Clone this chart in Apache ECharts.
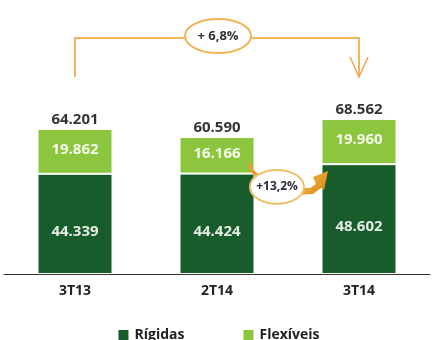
<!DOCTYPE html>
<html>
<head>
<meta charset="utf-8">
<script src="https://cdn.jsdelivr.net/npm/echarts@6/dist/echarts.min.js"></script>
<style>
  html, body { margin: 0; padding: 0; background: #fff; }
  #chart { width: 436px; height: 340px; }
</style>
</head>
<body>
<div id="chart"></div>
<script>
// Quarterly volumes split by packaging type
const categories = ['3T13', '2T14', '3T14'];
const rigidas = [44339, 44424, 48602];
const flexiveis = [19862, 16166, 19960];
const totals = rigidas.map((v, i) => v + flexiveis[i]);
const yearGrowth = '+ 6,8%';
const quarterGrowth = '+13,2%';

const FONT = '"Open Sans", "Noto Sans", sans-serif';
const DARK = '#195c2b';
const LIGHT = '#8cc63f';
const ORANGE = '#f2b45a';

const fmt = v => v.toLocaleString('de-DE');

const chart = echarts.init(document.getElementById('chart'), null, { renderer: 'canvas' });

chart.setOption({
  animation: false,
  backgroundColor: '#fff',
  grid: { left: 4, right: 6, top: 48, bottom: 66 },
  legend: {
    data: ['Rígidas', 'Flexíveis'],
    left: 'center',
    top: 323,
    itemWidth: 12,
    itemHeight: 12,
    itemGap: 57,
    icon: 'rect',
    textStyle: { fontFamily: FONT, fontWeight: 'bold', fontSize: 14, color: '#222' }
  },
  xAxis: {
    type: 'category',
    data: categories,
    axisLine: { lineStyle: { color: '#333', width: 1 } },
    axisTick: { show: false },
    axisLabel: { fontFamily: FONT, fontWeight: 'bold', fontSize: 14, color: '#222', margin: 10 }
  },
  yAxis: {
    type: 'value',
    min: 0,
    max: 100000,
    show: false,
    splitLine: { show: false }
  },
  series: [
    {
      name: 'Rígidas',
      type: 'bar',
      stack: 'vol',
      barWidth: 75,
      data: rigidas,
      itemStyle: { color: DARK, borderColor: '#fff', borderWidth: 1 },
      label: {
        show: true,
        position: 'inside',
        offset: [0, 8],
        formatter: p => fmt(p.value),
        fontFamily: FONT, fontWeight: 'bold', fontSize: 15, color: '#e4ebe4'
      }
    },
    {
      name: 'Flexíveis',
      type: 'bar',
      stack: 'vol',
      barWidth: 75,
      data: flexiveis,
      itemStyle: { color: LIGHT, borderColor: '#fff', borderWidth: 1 },
      label: {
        show: true,
        position: 'inside',
        offset: [0, -2],
        formatter: p => fmt(p.value),
        fontFamily: FONT, fontWeight: 'bold', fontSize: 15, color: '#f4f9ea'
      }
    },
    {
      name: 'Total',
      type: 'scatter',
      data: totals,
      symbolSize: 0,
      silent: true,
      z: 5,
      label: {
        show: true,
        position: 'top',
        distance: 2,
        formatter: p => fmt(p.value),
        fontFamily: FONT, fontWeight: 'bold', fontSize: 15, color: '#000'
      }
    }
  ]
});

// Growth annotations placed from the axis positions of the bars
const px = (i, v) => chart.convertToPixel({ xAxisIndex: 0, yAxisIndex: 0 }, [i, v]);
const x0 = px(0, 0)[0];
const x1 = px(1, 0)[0];
const x2 = px(2, 0)[0];
const lightBottom1 = px(1, rigidas[1]);
const darkTop2 = px(2, rigidas[2]);
const half = 37.5;

const bracketY = 38, bracketLow = 77;
const midX = (x0 + x2) / 2 + 1;

// centre of the quarter-on-quarter bubble, between the 2T14 and 3T14 bars
const ex = (x1 + x2) / 2 - 11;
const ey = (lightBottom1[1] + darkTop2[1]) / 2 + 18;
const tx = x1 + half - 6;
const ty = lightBottom1[1] - 12;

chart.setOption({
  graphic: [
    {
      type: 'polyline',
      shape: { points: [[x0, bracketLow], [x0, bracketY], [x2, bracketY], [x2, bracketLow]] },
      style: { stroke: ORANGE, lineWidth: 2, fill: null },
      z: 10
    },
    {
      type: 'polyline',
      shape: { points: [[x2 - 9, bracketLow - 20], [x2, bracketLow], [x2 + 9, bracketLow - 20]] },
      style: { stroke: '#efa453', lineWidth: 1.5, fill: null },
      z: 10
    },
    {
      type: 'ellipse',
      shape: { cx: midX, cy: 36, rx: 33, ry: 17 },
      style: { fill: '#fff', stroke: ORANGE, lineWidth: 2 },
      z: 11
    },
    {
      type: 'text',
      x: midX, y: 36,
      style: {
        text: yearGrowth, fill: '#333', fontFamily: FONT, fontWeight: 'bold', fontSize: 13,
        align: 'center', verticalAlign: 'middle'
      },
      z: 12
    },
    // curved tail leaving the Flexíveis segment
    {
      type: 'polygon',
      shape: {
        points: [
          [tx, ty], [tx + 4, ty + 7], [tx + 9, ty + 12], [ex - 12, ey - 12],
          [ex - 8, ey - 6], [tx + 7, ty + 15], [tx + 2, ty + 10], [tx - 1, ty + 4]
        ]
      },
      style: { fill: '#ee9b2c' },
      z: 11
    },
    // arrow body and head pointing into the 3T14 bar
    {
      type: 'polygon',
      shape: {
        points: [
          [ex + 20, ey + 1], [ex + 33, ey + 1], [ex + 39, ey - 3], [ex + 36, ey - 10],
          [ex + 51, ey - 16], [ex + 47, ey + 3], [ex + 44, ey + 1], [ex + 36, ey + 7], [ex + 20, ey + 8]
        ]
      },
      style: {
        fill: new echarts.graphic.LinearGradient(0, 0, 1, 1, [
          { offset: 0, color: '#f7c04a' },
          { offset: 1, color: '#d9861a' }
        ])
      },
      z: 11
    },
    {
      type: 'ellipse',
      shape: { cx: ex, cy: ey, rx: 27, ry: 17 },
      style: { fill: '#fff', stroke: '#f0c070', lineWidth: 2 },
      z: 12
    },
    {
      type: 'text',
      x: ex, y: ey,
      style: {
        text: quarterGrowth, fill: '#2b2b3a', fontFamily: FONT, fontWeight: 'bold', fontSize: 12,
        align: 'center', verticalAlign: 'middle'
      },
      z: 13
    }
  ]
});
</script>
</body>
</html>
